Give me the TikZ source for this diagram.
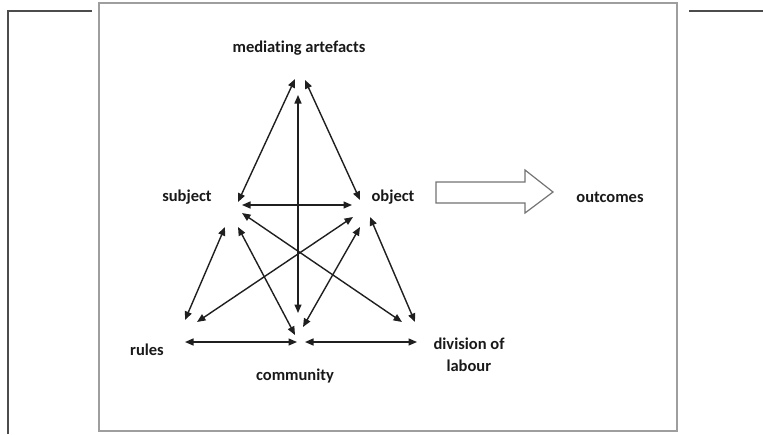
\documentclass[tikz,border=0pt]{standalone}
\usepackage{fontspec}
\setmainfont[Ligatures=NoCommon]{Carlito}
\usetikzlibrary{arrows.meta}
\begin{document}
\begin{tikzpicture}[x=1pt,y=-1pt,
  lbl/.style={font=\fontsize{16.5}{19}\selectfont\bfseries, text=black!90, inner sep=0pt, align=center},
  link/.style={{Triangle[length=8.5pt,width=7pt]}-{Triangle[length=8.5pt,width=7pt]}, line width=1.4pt, draw=black!88},
  frameline/.style={draw=black!70, line width=1.1pt},
  boxline/.style={draw=black!38, line width=1.6pt}]
\useasboundingbox (0,0) rectangle (763,434);
% outer frame fragments
\coordinate (fa) at (8,434);
\coordinate (fb) at (8,11);
\coordinate (fc) at (92,11);
\coordinate (fd) at (689,11);
\coordinate (fe) at (763,11);
\draw[frameline] (fa) -- (fb) -- (fc);
\draw[frameline] (fd) -- (fe);
% inner box
\draw[boxline] (99,3) rectangle (677,431);
% labels
\node[lbl] (med) at (299,48) {mediating artefacts};
\node[lbl] (sub) at (187,197) {subject};
\node[lbl] (obj) at (393,197) {object};
\node[lbl] (out) at (610,197) {outcomes};
\node[lbl] (rul) at (147,350) {rules};
\node[lbl] (com) at (295,376) {community};
\node[lbl, align=left] (div) at (469,355) {division of\\[3pt]\hspace*{13pt}labour};
% endpoints
\coordinate (m1) at (295,79);  \coordinate (s1) at (238,202);
\coordinate (m2) at (305,80);  \coordinate (o1) at (360,200);
\coordinate (m3) at (298,95);  \coordinate (c1) at (298,313);
\coordinate (s2) at (242,205); \coordinate (o2) at (352,205);
\coordinate (s3) at (225,227); \coordinate (r1) at (185,320);
\coordinate (s4) at (238,227); \coordinate (c2) at (295,335);
\coordinate (s5) at (242,213); \coordinate (d1) at (402,322);
\coordinate (o3) at (353,217); \coordinate (r2) at (197,322);
\coordinate (o4) at (360,227); \coordinate (c3) at (303,327);
\coordinate (o5) at (370,217); \coordinate (d2) at (415,322);
\coordinate (r3) at (185,342); \coordinate (c4) at (297,342);
\coordinate (c5) at (305,342); \coordinate (d3) at (417,342);
\draw[link] (m1) -- (s1);
\draw[link] (m2) -- (o1);
\draw[link] (m3) -- (c1);
\draw[link] (s2) -- (o2);
\draw[link] (s3) -- (r1);
\draw[link] (s4) -- (c2);
\draw[link] (s5) -- (d1);
\draw[link] (o3) -- (r2);
\draw[link] (o4) -- (c3);
\draw[link] (o5) -- (d2);
\draw[link] (r3) -- (c4);
\draw[link] (c5) -- (d3);
% block arrow to outcomes
\draw[draw=black!55, line width=1.2pt, fill=white, line join=miter]
  (436,182) -- (525,182) -- (525,170) -- (553,192) -- (525,213) -- (525,203) -- (436,203) -- cycle;
\end{tikzpicture}
\end{document}
